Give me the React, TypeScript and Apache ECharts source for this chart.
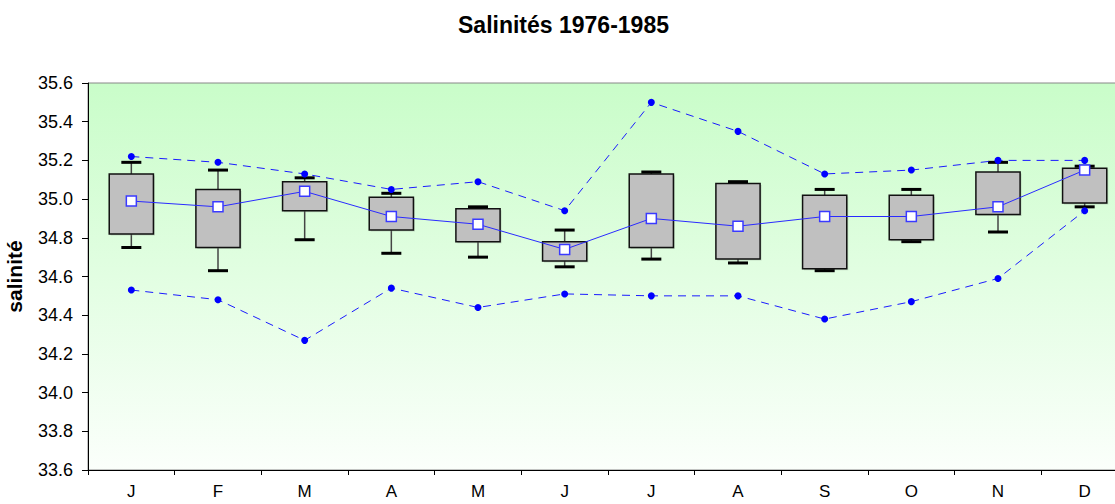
import React, { useEffect, useRef } from "react";
import * as echarts from "echarts";

const months = ["J", "F", "M", "A", "M", "J", "J", "A", "S", "O", "N", "D"];
const whiskerLow = [34.75, 34.63, 34.79, 34.72, 34.70, 34.65, 34.69, 34.67, 34.63, 34.78, 34.83, 34.96];
const q1 = [34.82, 34.75, 34.94, 34.84, 34.78, 34.68, 34.75, 34.69, 34.64, 34.79, 34.92, 34.98];
const q3 = [35.13, 35.05, 35.09, 35.01, 34.95, 34.78, 35.13, 35.08, 35.02, 35.02, 35.14, 35.16];
const whiskerHigh = [35.19, 35.15, 35.11, 35.03, 34.96, 34.84, 35.14, 35.09, 35.05, 35.05, 35.19, 35.17];
const meanVal = [34.99, 34.96, 35.04, 34.91, 34.87, 34.74, 34.90, 34.86, 34.91, 34.91, 34.96, 35.15];
const maxVal = [35.22, 35.19, 35.13, 35.05, 35.09, 34.94, 35.50, 35.35, 35.13, 35.15, 35.20, 35.20];
const minVal = [34.53, 34.48, 34.27, 34.54, 34.44, 34.51, 34.50, 34.50, 34.38, 34.47, 34.59, 34.94];

const FONT = "Liberation Sans, Arial, sans-serif";

export default function App() {
  const ref = useRef<HTMLDivElement>(null);
  useEffect(() => {
    if (!ref.current) return;
    const chart = echarts.init(ref.current, null, { renderer: "svg" });
    const boxData = months.map((_, i) => [i, whiskerLow[i], q1[i], q3[i], whiskerHigh[i]]);
    const option: any = {
      animation: false,
      backgroundColor: "#ffffff",
      title: {
        text: "Salinités 1976-1985",
        left: 453,
        top: 8,
        textStyle: { fontFamily: FONT, fontSize: 23, fontWeight: "bold", color: "#000" },
      },
      grid: {
        left: 88,
        right: -13,
        top: 83,
        bottom: 34,
        outerBoundsMode: "none",
        containLabel: false,
        show: true,
        borderColor: "#888888",
        borderWidth: 1,
        backgroundColor: new echarts.graphic.LinearGradient(0, 0, 0, 1, [
          { offset: 0, color: "#c9fdc9" },
          { offset: 1, color: "#fbfffb" },
        ]),
      },
      xAxis: {
        type: "category",
        data: months,
        boundaryGap: true,
        axisLine: { lineStyle: { color: "#000", width: 1 } },
        axisTick: { show: true, length: 5, lineStyle: { color: "#000" } },
        axisLabel: { fontFamily: FONT, fontSize: 17, color: "#000", margin: 13 },
        splitLine: { show: false },
      },
      yAxis: {
        type: "value",
        min: 33.6,
        max: 35.6,
        interval: 0.2,
        name: "salinité",
        nameLocation: "middle",
        nameRotate: 90,
        nameGap: 63,
        nameTextStyle: { fontFamily: FONT, fontSize: 21, fontWeight: "bold", color: "#000" },
        axisLine: { show: true, lineStyle: { color: "#000", width: 1 } },
        axisTick: { show: true, length: 6, lineStyle: { color: "#000" } },
        axisLabel: {
          fontFamily: FONT,
          fontSize: 18,
          color: "#000",
          margin: 15,
          formatter: (v: number) => v.toFixed(1),
        },
        splitLine: { show: false },
      },
      series: [
        {
          type: "custom",
          z: 2,
          data: boxData,
          renderItem: (params: any, api: any) => {
            const idx = api.value(0);
            const pLow = api.coord([idx, api.value(1)]);
            const pQ1 = api.coord([idx, api.value(2)]);
            const pQ3 = api.coord([idx, api.value(3)]);
            const pHigh = api.coord([idx, api.value(4)]);
            const bw = api.size([1, 0])[0] * 0.51;
            const cw = 20;
            const x = pQ1[0];
            return {
              type: "group",
              children: [
                { type: "line", shape: { x1: x, y1: pQ3[1], x2: x, y2: pHigh[1] }, style: { stroke: "#444", lineWidth: 1.5 } },
                { type: "line", shape: { x1: x, y1: pQ1[1], x2: x, y2: pLow[1] }, style: { stroke: "#444", lineWidth: 1.5 } },
                {
                  type: "rect",
                  shape: { x: x - bw / 2 + 1.5, y: pQ3[1] + 1.5, width: bw, height: pQ1[1] - pQ3[1] },
                  style: { fill: "#8a9a8a", opacity: 0.35 },
                },
                {
                  type: "rect",
                  shape: { x: x - bw / 2, y: pQ3[1], width: bw, height: pQ1[1] - pQ3[1] },
                  style: { fill: "#c0c0c0", stroke: "#111", lineWidth: 1.5 },
                },
                { type: "line", shape: { x1: x - cw / 2, y1: pHigh[1], x2: x + cw / 2, y2: pHigh[1] }, style: { stroke: "#000", lineWidth: 3 } },
                { type: "line", shape: { x1: x - cw / 2, y1: pLow[1], x2: x + cw / 2, y2: pLow[1] }, style: { stroke: "#000", lineWidth: 3 } },
              ],
            };
          },
        },
        {
          type: "line",
          z: 3,
          data: maxVal,
          symbol: "circle",
          symbolSize: 7,
          itemStyle: { color: "#0000ff" },
          lineStyle: { color: "#1a1aff", width: 1, type: [8, 6] },
        },
        {
          type: "line",
          z: 3,
          data: minVal,
          symbol: "circle",
          symbolSize: 7,
          itemStyle: { color: "#0000ff" },
          lineStyle: { color: "#1a1aff", width: 1, type: [8, 6] },
        },
        {
          type: "line",
          z: 4,
          data: meanVal,
          symbol: "rect",
          symbolSize: 10,
          itemStyle: { color: "#ffffff", borderColor: "#3a3aff", borderWidth: 1.5 },
          lineStyle: { color: "#2a2aff", width: 1 },
        },
      ],
    };
    chart.setOption(option);
    return () => chart.dispose();
  }, []);
  return <div ref={ref} style={{ position: "fixed", left: 0, top: 0, width: 1115, height: 504 }} />;
}
